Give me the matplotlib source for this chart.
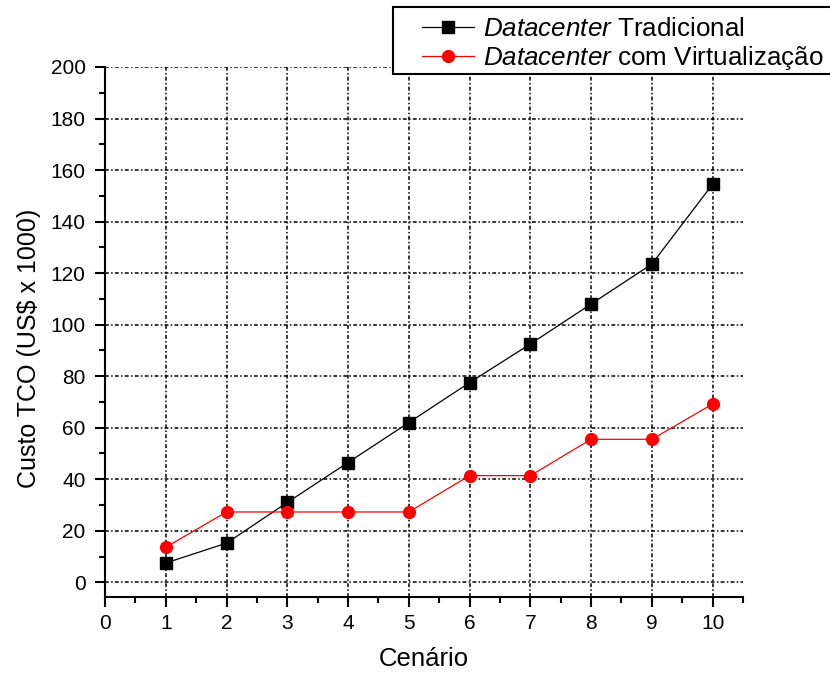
import matplotlib
matplotlib.use("Agg")
import matplotlib.pyplot as plt
from matplotlib.patches import Rectangle
from matplotlib.ticker import MultipleLocator

plt.rcParams['font.family'] = ['Liberation Sans', 'DejaVu Sans']
plt.rcParams['mathtext.fontset'] = 'custom'
plt.rcParams['mathtext.it'] = 'Liberation Sans:italic'
plt.rcParams['mathtext.rm'] = 'Liberation Sans'

cenarios = [1, 2, 3, 4, 5, 6, 7, 8, 9, 10]
tradicional = [7.5, 15.2, 31.0, 46.5, 62.0, 77.5, 92.5, 108.0, 123.5, 154.5]
virtualizacao = [13.6, 27.3, 27.3, 27.3, 27.3, 41.4, 41.4, 55.5, 55.5, 69.2]
labels = [r'$\it{Datacenter}$ Tradicional', r'$\it{Datacenter}$ com Virtualização']

fig = plt.figure(figsize=(8.3, 6.75), dpi=100)
ax = fig.add_axes([105/830, 1-597/675, (743-105)/830, (597-67)/675])

l1, = ax.plot(cenarios, tradicional, color='black', lw=0.9, marker='s', ms=8.5,
              markeredgecolor='black', markerfacecolor='black', label=labels[0], zorder=3)
l2, = ax.plot(cenarios, virtualizacao, color='red', lw=0.9, marker='o', ms=8.5,
              markeredgecolor='red', markerfacecolor='red', label=labels[1], zorder=3)

ax.set_xlim(0, 10.5)
ax.set_ylim(-5.7, 200)
ax.xaxis.set_major_locator(MultipleLocator(1))
ax.xaxis.set_minor_locator(MultipleLocator(0.5))
ax.yaxis.set_major_locator(MultipleLocator(20))
ax.yaxis.set_minor_locator(MultipleLocator(10))

ax.spines['top'].set_visible(False)
ax.spines['right'].set_visible(False)
ax.spines['left'].set_linewidth(1.5)
ax.spines['bottom'].set_linewidth(1.5)

ax.tick_params(which='major', direction='out', length=7, width=1.5, labelsize=15, pad=5)
ax.tick_params(which='minor', direction='out', length=4, width=1.5)
ax.tick_params(axis='y', which='major', pad=7)

ax.grid(True, which='major', color='black', linewidth=1.1,
        linestyle=(0, (2.5, 1.5, 1, 1.5)))
ax.set_axisbelow(True)

ax.set_xlabel('Cenário', fontsize=18.5, labelpad=10)
ax.set_ylabel('Custo TCO (US$ x 1000)', fontsize=18)
ax.yaxis.set_label_coords(-0.10, 0.47)

# legend frame and entries
fig.patches.append(Rectangle((393/830, 1-74/675), (840-393)/830, (74-7)/675,
                             transform=fig.transFigure, facecolor='white',
                             edgecolor='black', linewidth=1.5, zorder=5))
leg = fig.legend(handles=[l1, l2], loc='upper left',
                 bbox_to_anchor=(422/830, 1-17/675), frameon=False,
                 fontsize=18.7, handlelength=2.0, handletextpad=0.35,
                 labelspacing=0.1, borderpad=0.0, borderaxespad=0)
leg.set_zorder(6)

fig.savefig('out.png', dpi=100)
